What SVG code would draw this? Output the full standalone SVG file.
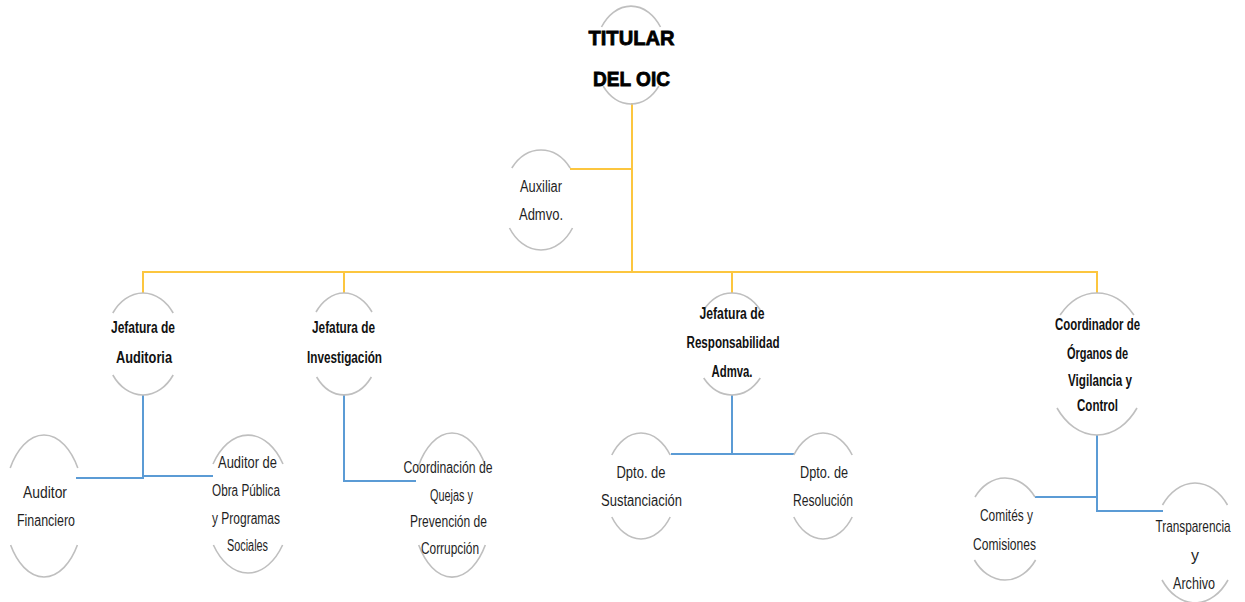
<svg xmlns="http://www.w3.org/2000/svg" width="1245" height="602" viewBox="0 0 1245 602">
  <style>
    .arc { fill: none; stroke: #BFBFBF; stroke-width: 1.6; }
    .lnY { fill: none; stroke: #FCC63F; stroke-width: 2; }
    .lnB { fill: none; stroke: #5B9BD5; stroke-width: 2; }
    .t { font-family: "Liberation Sans", Arial, sans-serif; font-size: 16px; fill: #1F1F1F; text-anchor: middle; }
    .b { font-weight: bold; fill: #111; }
    .ttl { font-family: "Liberation Sans", Arial, sans-serif; font-size: 21px; font-weight: bold; fill: #000; stroke: #000; stroke-width: 0.8; text-anchor: middle; }
  </style>
  <rect width="1245" height="602" fill="#FFFFFF"/>

  <!-- connectors -->
  <g id="connectors">
    <path class="lnY" d="M632 103 V272"/>
    <path class="lnY" d="M570 169 H632"/>
    <path class="lnY" d="M143 293 V272 H1097 V293"/>
    <path class="lnY" d="M344 272 V293"/>
    <path class="lnY" d="M732 272 V293"/>

    <path class="lnB" d="M143 395 V478 H76"/>
    <path class="lnB" d="M143 476 H213"/>
    <path class="lnB" d="M344 395 V481 H416"/>
    <path class="lnB" d="M732 395 V454"/>
    <path class="lnB" d="M671 454 H794"/>
    <path class="lnB" d="M1097 435 V511 H1163"/>
    <path class="lnB" d="M1035 497 H1097"/>
  </g>

  <!-- head -->
  <g id="titular">
    <path class="arc" d="M601.5 27 A36 49 0 0 1 660.5 27"/>
    <path class="arc" d="M603.1 86 A36 49 0 0 0 658.9 86"/>
    <text class="ttl" x="631.5" y="45" textLength="86" lengthAdjust="spacingAndGlyphs">TITULAR</text>
    <text class="ttl" x="631.5" y="86" textLength="77" lengthAdjust="spacingAndGlyphs">DEL OIC</text>
  </g>

  <g id="auxiliar">
    <path class="arc" d="M511.8 168 A38 50 0 0 1 570.2 168"/>
    <path class="arc" d="M509.5 228 A38 50 0 0 0 572.5 228"/>
    <text class="t" x="541" y="192" textLength="42" lengthAdjust="spacingAndGlyphs">Auxiliar</text>
    <text class="t" x="541" y="220" textLength="44" lengthAdjust="spacingAndGlyphs">Admvo.</text>
  </g>

  <!-- second level -->
  <g id="jef-auditoria">
    <path class="arc" d="M112.8 313 A38 51 0 0 1 173.2 313"/>
    <path class="arc" d="M112.8 375 A38 51 0 0 0 173.2 375"/>
    <text class="t b" x="143" y="333" textLength="64" lengthAdjust="spacingAndGlyphs">Jefatura de</text>
    <text class="t b" x="144" y="363" textLength="56" lengthAdjust="spacingAndGlyphs">Auditoria</text>
  </g>

  <g id="jef-investigacion">
    <path class="arc" d="M316 312 A36 51 0 0 1 372 312"/>
    <path class="arc" d="M316.6 377 A36 51 0 0 0 371.4 377"/>
    <text class="t b" x="343.5" y="333" textLength="63" lengthAdjust="spacingAndGlyphs">Jefatura de</text>
    <text class="t b" x="344.5" y="363" textLength="75" lengthAdjust="spacingAndGlyphs">Investigación</text>
  </g>

  <g id="jef-responsabilidad">
    <path class="arc" d="M703.7 310 A38 51 0 0 1 760.3 310"/>
    <path class="arc" d="M703.7 378 A38 51 0 0 0 760.3 378"/>
    <text class="t b" x="732" y="319" textLength="65" lengthAdjust="spacingAndGlyphs">Jefatura de</text>
    <text class="t b" x="733" y="348" textLength="93" lengthAdjust="spacingAndGlyphs">Responsabilidad</text>
    <text class="t b" x="732" y="377" textLength="41" lengthAdjust="spacingAndGlyphs">Admva.</text>
  </g>

  <g id="coordinador">
    <path class="arc" d="M1060.1 315 A51 71 0 0 1 1133.9 315"/>
    <path class="arc" d="M1057 408 A51 71 0 0 0 1137 408"/>
    <text class="t b" x="1097.5" y="330" textLength="85" lengthAdjust="spacingAndGlyphs">Coordinador de</text>
    <text class="t b" x="1097.5" y="359" textLength="61" lengthAdjust="spacingAndGlyphs">Órganos de</text>
    <text class="t b" x="1100" y="386" textLength="64" lengthAdjust="spacingAndGlyphs">Vigilancia y</text>
    <text class="t b" x="1097.5" y="411" textLength="41" lengthAdjust="spacingAndGlyphs">Control</text>
  </g>

  <!-- third level -->
  <g id="auditor-financiero">
    <path class="arc" d="M10.2 468 A40 71 0 0 1 77.8 468"/>
    <path class="arc" d="M10.6 545 A40 71 0 0 0 77.4 545"/>
    <text class="t" x="45" y="498" textLength="44" lengthAdjust="spacingAndGlyphs">Auditor</text>
    <text class="t" x="46" y="526" textLength="58" lengthAdjust="spacingAndGlyphs">Financiero</text>
  </g>

  <g id="auditor-obra">
    <path class="arc" d="M213 464 A43 69 0 0 1 283 464"/>
    <path class="arc" d="M213.4 545 A43 69 0 0 0 282.6 545"/>
    <text class="t" x="247.5" y="468" textLength="59" lengthAdjust="spacingAndGlyphs">Auditor de</text>
    <text class="t" x="246" y="496" textLength="68" lengthAdjust="spacingAndGlyphs">Obra Pública</text>
    <text class="t" x="246" y="524" textLength="68" lengthAdjust="spacingAndGlyphs">y Programas</text>
    <text class="t" x="247.5" y="551" textLength="41" lengthAdjust="spacingAndGlyphs">Sociales</text>
  </g>

  <g id="coord-quejas">
    <path class="arc" d="M418.4 466 A40 72 0 0 1 485.6 466"/>
    <path class="arc" d="M418.7 545 A40 72 0 0 0 485.3 545"/>
    <text class="t" x="448" y="473" textLength="89" lengthAdjust="spacingAndGlyphs">Coordinación de</text>
    <text class="t" x="451.5" y="501" textLength="43" lengthAdjust="spacingAndGlyphs">Quejas y</text>
    <text class="t" x="448.5" y="527" textLength="77" lengthAdjust="spacingAndGlyphs">Prevención de</text>
    <text class="t" x="450" y="554" textLength="58" lengthAdjust="spacingAndGlyphs">Corrupción</text>
  </g>

  <g id="dpto-sustanciacion">
    <path class="arc" d="M611.8 455 A36 53 0 0 1 670.2 455"/>
    <path class="arc" d="M611.8 517 A36 53 0 0 0 670.2 517"/>
    <text class="t" x="641" y="478" textLength="49" lengthAdjust="spacingAndGlyphs">Dpto. de</text>
    <text class="t" x="641.5" y="506" textLength="81" lengthAdjust="spacingAndGlyphs">Sustanciación</text>
  </g>

  <g id="dpto-resolucion">
    <path class="arc" d="M793.8 455 A36 53 0 0 1 852.2 455"/>
    <path class="arc" d="M793.8 517 A36 53 0 0 0 852.2 517"/>
    <text class="t" x="824" y="478" textLength="48" lengthAdjust="spacingAndGlyphs">Dpto. de</text>
    <text class="t" x="823" y="506" textLength="60" lengthAdjust="spacingAndGlyphs">Resolución</text>
  </g>

  <g id="comites">
    <path class="arc" d="M975 497 A38.5 51 0 0 1 1035 497"/>
    <path class="arc" d="M974.4 560 A38.5 51 0 0 0 1035.6 560"/>
    <text class="t" x="1006.5" y="521" textLength="53" lengthAdjust="spacingAndGlyphs">Comités y</text>
    <text class="t" x="1004.5" y="550" textLength="63" lengthAdjust="spacingAndGlyphs">Comisiones</text>
  </g>

  <g id="transparencia">
    <path class="arc" d="M1162.5 505 A42 60 0 0 1 1227.5 505"/>
    <path class="arc" d="M1162 580 A42 60 0 0 0 1228 580"/>
    <!-- narrowed with a scale so its box stays inside the page -->
    <text class="t" transform="translate(1193 532) scale(0.74 1)" x="0" y="0">Transparencia</text>
    <text class="t" x="1195" y="561">y</text>
    <text class="t" x="1194" y="589" textLength="42" lengthAdjust="spacingAndGlyphs">Archivo</text>
  </g>
</svg>
